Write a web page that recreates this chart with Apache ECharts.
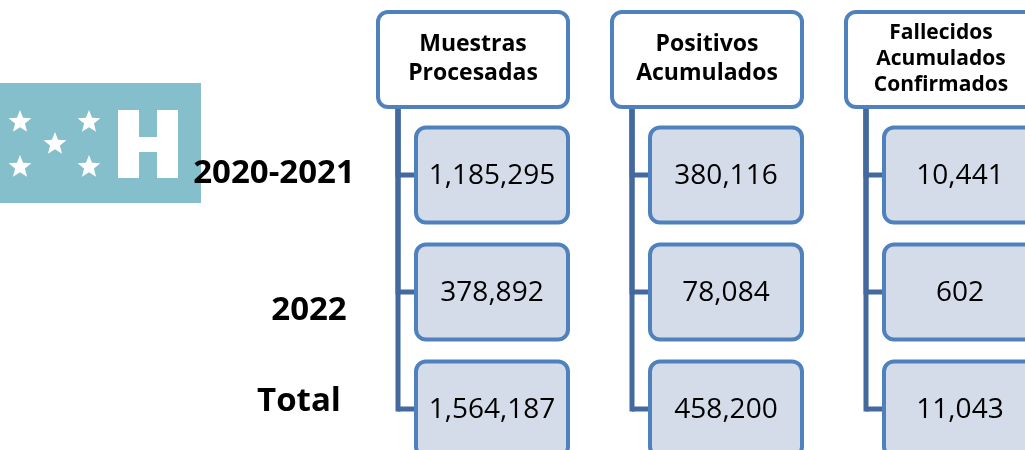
<!DOCTYPE html>
<html>
<head>
<meta charset="utf-8">
<script src="https://cdn.jsdelivr.net/npm/echarts@6/dist/echarts.min.js"></script>
<style>
  html, body { margin: 0; padding: 0; background: #fff; }
  #chart { width: 1025px; height: 450px; }
</style>
</head>
<body>
<div id="chart"></div>
<script>
// data
const columns = ['Muestras\nProcesadas', 'Positivos\nAcumulados', 'Fallecidos\nAcumulados\nConfirmados']
const periods = ['2020-2021', '2022', 'Total']
const muestras = [1185295, 378892, 1564187]
const positivos = [380116, 78084, 458200]
const fallecidos = [10441, 602, 11043]

const values = [muestras, positivos, fallecidos]

// layout: column 0 sits at x=473px, step 234px; header row at y=58px, step 117px
const X0 = 473, XSTEP = 234, Y0 = 58, YSTEP = 117
const LINE = '#43699f'
const BORDER = '#4f81bd'
const FILL = '#d4dcea'
const FONT = '"Open Sans", "Liberation Sans", sans-serif'

// row label nudges relative to first column / row centre
const labelNudge = [[-199, -1], [-164, 19], [-174, -7]]

const cells = []
values.forEach((arr, col) => {
  arr.forEach((v, i) => cells.push([col, i + 1, v]))
})

function renderHeader(params, api) {
  const col = api.value(0)
  const c = api.coord([col, 0])
  const lines = columns[col].split('\n').length
  return {
    type: 'group',
    children: [
      {
        type: 'rect',
        shape: { x: c[0] - 95, y: c[1] - 46, width: 190, height: 95, r: 10 },
        style: { fill: '#fff', stroke: BORDER, lineWidth: 4 }
      },
      {
        type: 'text',
        style: {
          text: columns[col],
          x: c[0], y: c[1] + 1,
          align: 'center', verticalAlign: 'middle',
          fontFamily: FONT, fontWeight: 'bold',
          fontSize: lines > 2 ? 21 : 23,
          lineHeight: lines > 2 ? 26 : 29,
          fill: '#000'
        }
      }
    ]
  }
}

function renderCell(params, api) {
  const col = api.value(0), row = api.value(1)
  const c = api.coord([col, row])
  const h = api.coord([col, 0])
  const lineX = h[0] - 75
  const boxL = h[0] - 57
  return {
    type: 'group',
    children: [
      {
        type: 'line',
        shape: { x1: lineX, y1: h[1] + 49, x2: lineX, y2: c[1] + 2.5 },
        style: { stroke: LINE, lineWidth: 5 }
      },
      {
        type: 'line',
        shape: { x1: lineX, y1: c[1], x2: boxL, y2: c[1] },
        style: { stroke: LINE, lineWidth: 5 }
      },
      {
        type: 'rect',
        shape: { x: boxL, y: c[1] - 47.5, width: 152, height: 95, r: 10 },
        style: { fill: FILL, stroke: BORDER, lineWidth: 4 }
      },
      {
        type: 'text',
        style: {
          text: api.value(2).toLocaleString('en-US'),
          x: boxL + 76, y: c[1] + 1,
          align: 'center', verticalAlign: 'middle',
          fontFamily: FONT, fontSize: 28, fill: '#000'
        }
      }
    ]
  }
}

function renderLabel(params, api) {
  const i = params.dataIndex
  const c = api.coord([0, api.value(0)])
  return {
    type: 'text',
    style: {
      text: periods[i],
      x: c[0] + labelNudge[i][0], y: c[1] + labelNudge[i][1],
      align: 'center', verticalAlign: 'middle',
      fontFamily: FONT, fontWeight: 'bold', fontSize: 33, fill: '#000'
    }
  }
}

function star(cx, cy, r) {
  const pts = []
  for (let k = 0; k < 10; k++) {
    const rr = k % 2 === 0 ? r : r * 0.43
    const a = -Math.PI / 2 + k * Math.PI / 5
    pts.push([cx + rr * Math.cos(a), cy + rr * Math.sin(a)])
  }
  return pts
}

const starPos = [[20, 122], [89, 122], [55, 144], [20, 167], [89, 167]]

const chart = echarts.init(document.getElementById('chart'), null, { renderer: 'canvas' })

chart.setOption({
  animation: false,
  grid: { left: 0, right: 0, top: 0, bottom: 0 },
  xAxis: { type: 'value', show: false, min: -X0 / XSTEP, max: (1025 - X0) / XSTEP },
  yAxis: { type: 'value', show: false, inverse: true, min: -Y0 / YSTEP, max: (450 - Y0) / YSTEP },
  graphic: [
    {
      type: 'group',
      z: 0,
      children: [
        { type: 'rect', shape: { x: 0, y: 83, width: 201, height: 120 }, style: { fill: '#86bfcc' } },
        { type: 'rect', shape: { x: 118, y: 110, width: 21, height: 68 }, style: { fill: '#fff' } },
        { type: 'rect', shape: { x: 157, y: 110, width: 21, height: 68 }, style: { fill: '#fff' } },
        { type: 'rect', shape: { x: 139, y: 137, width: 18, height: 15 }, style: { fill: '#fff' } }
      ].concat(starPos.map(p => ({
        type: 'polygon',
        shape: { points: star(p[0], p[1], 12) },
        style: { fill: '#fff' }
      })))
    }
  ],
  series: [
    {
      type: 'custom',
      name: 'labels',
      z: 5,
      renderItem: renderLabel,
      data: periods.map((p, i) => [i + 1])
    },
    {
      type: 'custom',
      name: 'cells',
      renderItem: renderCell,
      data: cells
    },
    {
      type: 'custom',
      name: 'headers',
      renderItem: renderHeader,
      data: columns.map((c, i) => [i])
    }
  ]
})
</script>
</body>
</html>
